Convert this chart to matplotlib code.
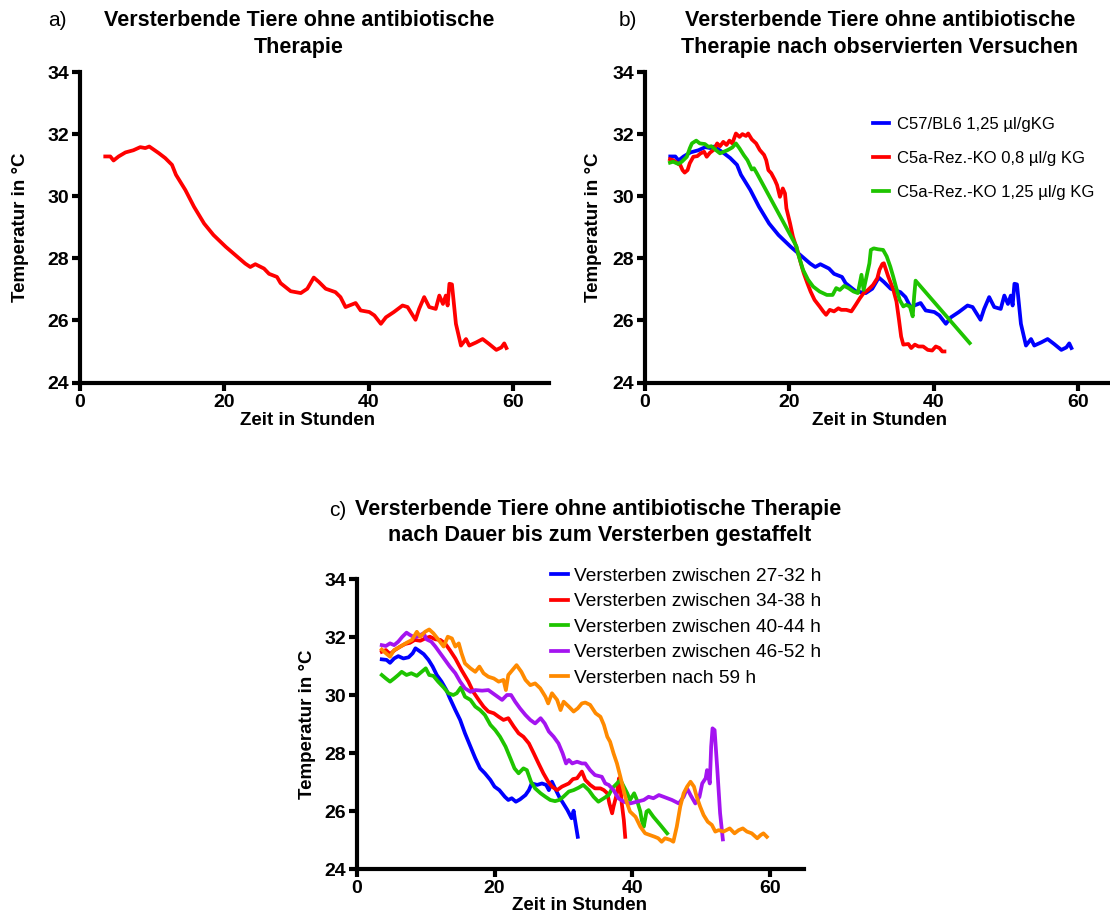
import matplotlib
matplotlib.use("Agg")
import matplotlib.pyplot as plt

plt.rcParams['font.family'] = ['Liberation Sans', 'DejaVu Sans']

W, H = 1110, 916

# ---- data: time in hours, temperature in °C ----
# C57/BL6 1,25 µl/gKG (panel a and blue curve in panel b)
c57_t = [3.5, 4.2, 4.65, 5.35, 6.3, 7.4, 8.35, 9.05, 9.6, 10.9, 11.8, 12.75, 13.3,
         14.6, 15.8, 17.2, 18.5, 20.2, 21.55, 22.9, 23.6, 24.3, 25.5, 26.2, 27.3,
         27.8, 29.2, 30.6, 31.5, 32.4, 33.1, 34.05, 35.4, 36.1, 36.8, 38.2, 38.9,
         40.1, 40.8, 41.7, 42.4, 43.5, 44.7, 45.4, 46.5, 47.0, 47.7, 48.4, 49.3,
         49.8, 50.3, 50.7, 50.95, 51.2, 51.55, 52.1, 52.8, 53.5, 53.95, 54.9,
         55.8, 56.7, 57.7, 58.4, 58.8, 59.1]
c57_T = [31.28, 31.28, 31.15, 31.28, 31.41, 31.48, 31.58, 31.55, 31.6, 31.39,
         31.23, 31.01, 30.69, 30.2, 29.66, 29.12, 28.75, 28.37, 28.1, 27.83,
         27.72, 27.81, 27.67, 27.5, 27.4, 27.2, 26.94, 26.88, 27.02, 27.38,
         27.24, 27.02, 26.91, 26.75, 26.43, 26.56, 26.32, 26.27, 26.16, 25.89,
         26.1, 26.27, 26.48, 26.43, 26.02, 26.37, 26.75, 26.43, 26.37, 26.8,
         26.53, 26.8, 26.48, 27.18, 27.16, 25.89, 25.19, 25.4, 25.19, 25.29,
         25.4, 25.24, 25.05, 25.13, 25.26, 25.11]

# C5a-Rez.-KO 0,8 µl/g KG
ko08_t = [3.46, 3.9, 4.5, 4.9, 5.2, 5.5, 5.9, 6.2, 6.7, 7.25, 7.7, 8.2, 8.55, 9.0,
          9.55, 10.0, 10.4, 10.85, 11.3, 11.7, 12.1, 12.6, 13.1, 13.5, 14.0, 14.3,
          14.8, 15.4, 15.9, 16.5, 16.8, 17.1, 17.5, 18.0, 18.3, 18.7, 19.1, 19.4,
          19.6, 20.1, 20.5, 21.1, 21.6, 22.0, 22.5, 22.95, 23.5, 24.2, 24.7, 25.1,
          25.6, 26.2, 26.8, 27.2, 27.9, 28.6, 29.2, 29.8, 30.3, 30.9, 31.6, 32.2,
          32.5, 32.9, 33.1, 33.7, 34.4, 34.85, 35.2, 35.5, 35.8, 36.5, 36.9, 37.4,
          37.9, 38.55, 39.2, 39.8, 40.3, 40.8, 41.2, 41.5]
ko08_T = [31.19, 31.16, 31.06, 31.0, 30.84, 30.76, 30.84, 31.06, 31.27, 31.29,
          31.38, 31.43, 31.27, 31.4, 31.5, 31.7, 31.61, 31.75, 31.65, 31.79, 31.7,
          32.02, 31.91, 32.0, 31.94, 32.02, 31.83, 31.7, 31.49, 31.33, 31.16,
          30.84, 30.74, 30.52, 30.36, 29.98, 30.25, 30.09, 29.61, 29.13, 28.7,
          28.27, 27.84, 27.52, 27.2, 26.93, 26.66, 26.45, 26.29, 26.18, 26.34,
          26.29, 26.39, 26.34, 26.34, 26.29, 26.5, 26.72, 26.88, 26.98, 27.14,
          27.36, 27.63, 27.82, 27.84, 27.42, 27.0, 26.61, 26.02, 25.48, 25.22,
          25.24, 25.11, 25.22, 25.16, 25.16, 25.05, 25.03, 25.16, 25.11, 25.0, 25.0]

# C5a-Rez.-KO 1,25 µl/g KG
ko125_t = [3.46, 3.9, 4.6, 5.1, 5.8, 6.2, 6.5, 7.1, 7.6, 8.3, 8.8, 9.2, 9.8, 10.4,
           10.9, 11.5, 12.1, 12.6, 13.1, 13.7, 14.2, 14.8, 15.1, 15.5, 21.0, 21.2,
           21.9, 22.6, 23.3, 24.2, 25.2, 26.0, 26.5, 27.0, 27.6, 28.2, 28.9, 29.5,
           30.0, 30.3, 30.7, 31.1, 31.3, 31.7, 32.3, 33.0, 33.5, 34.0, 34.4, 34.9,
           35.3, 35.8, 36.2, 36.7, 37.1, 37.3, 37.5, 45.0]
ko125_T = [31.08, 31.11, 31.04, 31.11, 31.27, 31.54, 31.7, 31.79, 31.7, 31.68,
           31.59, 31.61, 31.49, 31.38, 31.43, 31.49, 31.57, 31.7, 31.54, 31.32,
           31.16, 30.86, 30.9, 30.74, 28.38, 28.16, 27.63, 27.31, 27.09, 26.93,
           26.82, 26.82, 27.04, 26.98, 27.11, 27.04, 26.93, 26.88, 27.47, 26.98,
           27.41, 27.84, 28.27, 28.32, 28.29, 28.27, 28.06, 27.73, 27.41, 26.98,
           26.66, 26.45, 26.5, 26.45, 26.13, 26.77, 27.28, 25.27]

# Staggered by time until death
g1_t = [3.6, 4.3, 4.8, 5.4, 6.0, 6.75, 7.5, 8.1, 8.5, 9.0, 9.7, 10.4, 11.0, 11.6,
        12.3, 13.0, 13.5, 14.3, 15.0, 15.7, 16.5, 17.2, 17.9, 18.6, 19.4, 20.0,
        20.7, 21.5, 22.0, 22.5, 23.1, 23.7, 24.5, 25.0, 25.4, 26.2, 26.9, 27.5,
        27.9, 28.35, 28.8, 29.4, 30.0, 30.6, 31.2, 31.5, 31.7, 32.1]
g1_T = [31.23, 31.21, 31.11, 31.26, 31.34, 31.26, 31.3, 31.44, 31.61, 31.53, 31.41,
        31.21, 30.98, 30.69, 30.46, 30.17, 29.89, 29.48, 29.14, 28.68, 28.22,
        27.82, 27.47, 27.3, 27.07, 26.84, 26.72, 26.49, 26.38, 26.44, 26.32, 26.4,
        26.55, 26.72, 26.95, 26.9, 26.95, 26.9, 26.72, 27.01, 26.78, 26.49, 26.26,
        26.03, 25.75, 26.01, 25.69, 25.11]

g2_t = [3.6, 4.2, 4.8, 5.5, 6.3, 7.0, 7.7, 8.4, 9.2, 9.9, 10.6, 11.4, 12.1, 12.8,
        13.5, 14.3, 15.2, 16.2, 16.9, 17.7, 18.4, 19.1, 19.9, 20.6, 21.3, 22.0,
        22.8, 23.5, 24.2, 25.0, 25.7, 26.4, 27.1, 27.8, 28.35, 29.1, 29.8, 30.8,
        31.4, 32.0, 32.7, 33.2, 33.9, 34.6, 35.4, 35.9, 36.4, 36.7, 37.1, 37.3,
        37.8, 38.1, 38.3, 38.5, 38.8, 39.0]
g2_T = [31.49, 31.55, 31.41, 31.55, 31.67, 31.76, 31.8, 31.9, 31.87, 31.95, 32.01,
        31.92, 31.9, 31.78, 31.55, 31.26, 30.86, 30.46, 30.11, 29.83, 29.6, 29.43,
        29.37, 29.25, 29.14, 29.2, 28.91, 28.68, 28.56, 28.33, 27.99, 27.64, 27.3,
        27.01, 26.84, 26.72, 26.84, 26.95, 27.1, 27.13, 27.36, 27.07, 26.9, 26.78,
        26.78, 26.72, 26.61, 26.26, 25.92, 26.15, 26.61, 27.13, 26.84, 26.26,
        25.69, 25.11]

g3_t = [3.6, 4.2, 4.8, 5.4, 6.0, 6.5, 7.2, 7.9, 8.7, 9.4, 10.0, 10.5, 11.1, 11.8,
        12.6, 13.3, 14.0, 14.5, 15.1, 15.7, 16.5, 17.2, 17.9, 18.6, 19.4, 20.1,
        20.8, 21.6, 22.3, 22.9, 23.5, 24.2, 24.7, 25.3, 25.9, 26.7, 27.4, 28.1,
        28.8, 29.4, 30.0, 30.8, 31.5, 32.2, 32.9, 33.7, 34.4, 35.1, 35.9, 36.6,
        37.1, 37.6, 38.3, 38.8, 39.3, 39.7, 40.3, 40.7, 41.2, 41.4, 41.7, 42.1,
        42.4, 43.1, 44.1, 45.1]
g3_T = [30.69, 30.57, 30.46, 30.57, 30.69, 30.8, 30.69, 30.75, 30.66, 30.8, 30.92,
        30.69, 30.66, 30.46, 30.26, 30.06, 30.0, 30.06, 30.26, 29.94, 29.83, 29.6,
        29.48, 29.31, 28.97, 28.79, 28.56, 28.22, 27.82, 27.47, 27.3, 27.47, 27.41,
        27.01, 26.78, 26.61, 26.49, 26.38, 26.34, 26.38, 26.49, 26.67, 26.72,
        26.8, 26.9, 26.72, 26.49, 26.32, 26.44, 26.55, 26.78, 26.9, 27.07, 26.84,
        26.61, 26.38, 26.61, 26.38, 25.98, 25.69, 25.46, 25.98, 26.03, 25.8,
        25.52, 25.23]

g4_t = [3.6, 4.2, 4.8, 5.4, 6.0, 6.6, 7.2, 7.7, 8.35, 8.9, 9.7, 10.1, 10.8, 11.4,
        12.1, 12.8, 13.5, 14.3, 15.0, 15.7, 16.5, 17.2, 18.2, 19.1, 20.1, 21.1,
        21.8, 22.4, 23.0, 23.7, 24.5, 25.2, 25.9, 26.7, 27.3, 27.9, 28.6, 29.3,
        29.9, 30.4, 30.8, 31.3, 32.0, 32.7, 33.2, 33.9, 34.6, 35.6, 36.1, 36.6,
        37.3, 38.0, 38.8, 39.7, 40.7, 41.7, 42.4, 43.1, 43.9, 44.8, 45.8, 46.8,
        47.5, 48.0, 48.5, 49.2, 49.8, 50.2, 50.7, 50.9, 51.3, 51.5, 51.7, 52.0,
        52.4, 52.8, 53.2]
g4_T = [31.72, 31.69, 31.78, 31.72, 31.84, 32.01, 32.15, 32.07, 31.99, 32.03, 32.13,
        31.92, 31.84, 31.67, 31.44, 31.21, 30.98, 30.75, 30.46, 30.23, 30.11, 30.17,
        30.15, 30.17, 30.0, 29.83, 30.0, 30.0, 29.77, 29.54, 29.31, 29.14, 29.02,
        29.2, 29.02, 28.74, 28.56, 28.33, 27.99, 27.64, 27.76, 27.64, 27.7, 27.64,
        27.64, 27.41, 27.24, 27.18, 26.95, 26.9, 26.72, 26.44, 26.32, 26.26, 26.32,
        26.38, 26.49, 26.44, 26.55, 26.47, 26.38, 26.26, 26.49, 26.78, 26.55,
        26.26, 26.49, 26.95, 27.13, 27.41, 26.95, 28.22, 28.85, 28.79, 27.41,
        25.92, 25.02]

g5_t = [3.6, 4.2, 4.8, 5.4, 6.3, 7.2, 8.0, 8.7, 9.2, 9.9, 10.5, 11.1, 11.8, 12.6,
        13.2, 13.8, 14.3, 14.8, 15.2, 15.7, 16.5, 17.2, 17.8, 18.4, 19.1, 19.9,
        20.6, 21.3, 21.65, 22.0, 22.6, 23.2, 23.9, 24.5, 25.2, 25.9, 26.65, 27.4,
        27.8, 28.35, 29.1, 29.6, 30.05, 30.8, 31.5, 32.1, 32.7, 33.2, 33.9, 34.7,
        35.4, 35.9, 36.4, 36.8, 37.3, 37.8, 38.3, 38.7, 39.2, 39.7, 40.5, 41.2,
        41.9, 42.6, 43.3, 43.8, 44.3, 44.8, 45.6, 46.0, 46.5, 47.0, 47.5, 48.0,
        48.5, 49.0, 49.4, 49.9, 50.4, 51.0, 51.6, 52.1, 52.6, 53.3, 54.2, 54.9,
        55.5, 56.1, 56.7, 57.4, 58.2, 58.7, 59.1, 59.6]
g5_T = [31.57, 31.44, 31.32, 31.55, 31.67, 31.8, 31.9, 32.18, 32.01, 32.18, 32.26,
        32.13, 31.92, 31.67, 32.01, 31.95, 31.67, 31.78, 31.44, 31.09, 30.92, 30.8,
        30.98, 30.75, 30.63, 30.57, 30.46, 30.52, 30.17, 30.69, 30.86, 31.03, 30.8,
        30.52, 30.34, 30.4, 30.23, 29.94, 29.71, 30.06, 29.83, 29.48, 29.77, 29.6,
        29.43, 29.54, 29.71, 29.74, 29.66, 29.37, 29.25, 28.97, 28.56, 28.39,
        27.99, 27.64, 27.18, 26.78, 26.32, 25.98, 25.8, 25.46, 25.23, 25.17, 25.11,
        25.06, 24.94, 25.06, 25.0, 24.94, 25.46, 26.15, 26.61, 26.84, 27.01,
        26.84, 26.49, 26.15, 25.86, 25.63, 25.52, 25.29, 25.34, 25.29, 25.4,
        25.23, 25.34, 25.4, 25.29, 25.23, 25.06, 25.17, 25.23, 25.11]

x_ticks = [0, 20, 40, 60]
y_ticks = [24, 26, 28, 30, 32, 34]

legend_b = ["C57/BL6 1,25 µl/gKG", "C5a-Rez.-KO 0,8 µl/g KG",
            "C5a-Rez.-KO 1,25 µl/g KG"]
legend_c = ["Versterben zwischen 27-32 h", "Versterben zwischen 34-38 h",
            "Versterben zwischen 40-44 h", "Versterben zwischen 46-52 h",
            "Versterben nach 59 h"]

RED, BLUE, GREEN = "#ff0000", "#0000ff", "#1ec400"
PURPLE, ORANGE = "#a414f0", "#ff8a00"

fig = plt.figure(figsize=(W / 100, H / 100), dpi=100)


def px_axes(left, top, right, bottom):
    return fig.add_axes([left / W, 1 - bottom / H, (right - left) / W,
                         (bottom - top) / H])


def style(ax, ylab_x, xlab_x, xlab_y):
    ax.set_xlim(0, 65)
    ax.set_ylim(24, 34)
    ax.set_xticks(x_ticks)
    ax.set_yticks(y_ticks)
    for s in ("top", "right"):
        ax.spines[s].set_visible(False)
    for s in ("left", "bottom"):
        ax.spines[s].set_linewidth(3.0)
    ax.tick_params(direction="out", length=6, width=3.0, labelsize=14, pad=2)
    for lab in ax.get_xticklabels() + ax.get_yticklabels():
        lab.set_fontweight("bold")
    ax.set_xlabel("Zeit in Stunden", fontsize=13.5, fontweight="bold")
    ax.set_ylabel("Temperatur in °C", fontsize=13.5, fontweight="bold")
    bb = ax.get_position()
    ax.yaxis.set_label_coords(ylab_x / W, bb.y0 + bb.height / 2,
                              transform=fig.transFigure)
    ax.xaxis.set_label_coords(xlab_x / W, 1 - xlab_y / H,
                              transform=fig.transFigure)
    ax.yaxis.label.set_va("center")
    ax.xaxis.label.set_va("center")


def ftext(x, y, s, **kw):
    fig.text(x / W, 1 - y / H, s, **kw)


LW = 2.7
TFS = 15.5

# ---- a) ----
ax_a = px_axes(80, 72, 549, 382.5)
ax_a.plot(c57_t, c57_T, color=RED, lw=LW)
style(ax_a, 21, 307, 420)
ftext(57, 20, "a)", fontsize=15, ha="center", va="center")
ftext(299, 20, "Versterbende Tiere ohne antibiotische", fontsize=TFS,
      fontweight="bold", ha="center", va="center")
ftext(299, 48, "Therapie", fontsize=TFS, fontweight="bold", ha="center",
      va="center")

# ---- b) ----
ax_b = px_axes(645, 72, 1114, 382.5)
lb1, = ax_b.plot(c57_t, c57_T, color=BLUE, lw=LW)
lb2, = ax_b.plot(ko08_t, ko08_T, color=RED, lw=LW)
lb3, = ax_b.plot(ko125_t, ko125_T, color=GREEN, lw=LW)
style(ax_b, 593, 880, 420)
ax_b.legend([lb1, lb2, lb3], legend_b, loc="upper left", frameon=False,
            bbox_to_anchor=(873 / W, 1 - 117 / H),
            bbox_transform=fig.transFigure, fontsize=12, handlelength=0.95,
            handletextpad=0.5, labelspacing=1.15, borderpad=0, borderaxespad=0)
ftext(628, 20, "b)", fontsize=15, ha="center", va="center")
ftext(880, 20, "Versterbende Tiere ohne antibiotische", fontsize=TFS,
      fontweight="bold", ha="center", va="center")
ftext(880, 48, "Therapie nach observierten Versuchen", fontsize=TFS,
      fontweight="bold", ha="center", va="center")

# ---- c) ----
ax_c = px_axes(357, 579, 804, 869)
lc = []
for t, T, c in ((g1_t, g1_T, BLUE), (g2_t, g2_T, RED), (g3_t, g3_T, GREEN),
                (g4_t, g4_T, PURPLE), (g5_t, g5_T, ORANGE)):
    ln, = ax_c.plot(t, T, color=c, lw=LW)
    lc.append(ln)
style(ax_c, 308, 580, 905)
ax_c.legend(lc, legend_c, loc="upper left", frameon=False,
            bbox_to_anchor=(551 / W, 1 - 567.5 / H),
            bbox_transform=fig.transFigure, fontsize=13.8, handlelength=0.87,
            handletextpad=0.35, labelspacing=0.42, borderpad=0,
            borderaxespad=0)
ftext(338, 510, "c)", fontsize=15, ha="center", va="center")
ftext(598, 510, "Versterbende Tiere ohne antibiotische Therapie", fontsize=TFS,
      fontweight="bold", ha="center", va="center")
ftext(600, 535, "nach Dauer bis zum Versterben gestaffelt", fontsize=TFS,
      fontweight="bold", ha="center", va="center")

fig.savefig("out.png", dpi=100)
